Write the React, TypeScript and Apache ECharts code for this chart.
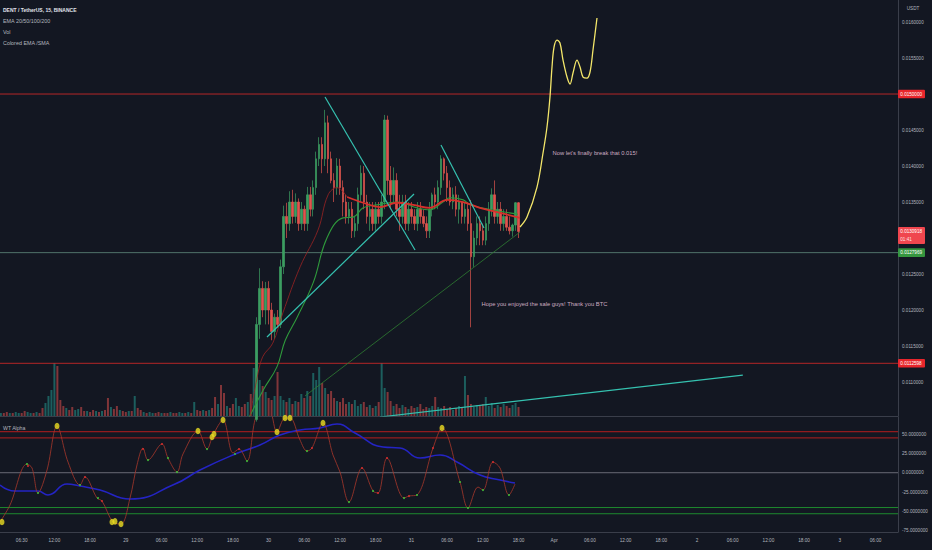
import React, { useEffect, useRef } from "react";
import * as echarts from "echarts";

// ---------- time axis: hours since 28 Mar 00:00 ----------
const X_MIN = 2.857;
const X_MAX = 153.78;
const timeTickHours = [6.5, 12, 18, 24, 30, 36, 42, 48, 54, 60, 66, 72, 78, 84, 90, 96, 102, 108, 114, 120, 126, 132, 138, 144, 150];
const dayLabels: Record<number, string> = { 24: "29", 48: "30", 72: "31", 96: "Apr", 120: "2", 144: "3" };

// ---------- price pane ----------
const PRICE_MIN = 0.010528;
const PRICE_MAX = 0.016306;
const priceTicks = [0.011, 0.0115, 0.012, 0.0125, 0.0135, 0.014, 0.0145, 0.0155, 0.016];
const resistanceLevel = 0.015;
const supportLevel = 0.0127969;
const lowLevel = 0.0112598;
const lastPrice = 0.0130918;
const countdown = "01:41";

// 30-minute candles from hour 46: [open, close, low, high]
const candleStartHour = 46;
const candleStepHours = 0.5;
const candles: number[][] = [
  [0.01048, 0.0118, 0.01045, 0.0119],
  [0.0118, 0.0123, 0.0116, 0.01258],
  [0.0123, 0.012, 0.0119, 0.0124],
  [0.012, 0.0123, 0.0118, 0.01239],
  [0.0123, 0.012, 0.0118, 0.0124],
  [0.012, 0.0117, 0.01158, 0.0121],
  [0.0117, 0.0119, 0.0116, 0.01195],
  [0.0119, 0.0118, 0.01175, 0.012],
  [0.0118, 0.0126, 0.01175, 0.0127],
  [0.0126, 0.0133, 0.0125, 0.01345],
  [0.0133, 0.0132, 0.013, 0.01349],
  [0.0132, 0.0135, 0.0131, 0.01365],
  [0.0135, 0.0133, 0.0132, 0.01367],
  [0.0133, 0.0135, 0.01321, 0.01362],
  [0.0135, 0.0132, 0.0131, 0.01355],
  [0.0132, 0.0134, 0.01311, 0.0135],
  [0.0134, 0.0132, 0.0131, 0.01345],
  [0.0132, 0.0136, 0.0131, 0.01371],
  [0.0136, 0.0134, 0.0133, 0.01371],
  [0.0134, 0.0137, 0.0133, 0.0138],
  [0.0137, 0.0141, 0.0136, 0.0142],
  [0.0141, 0.0143, 0.014, 0.0144],
  [0.0143, 0.0141, 0.0139, 0.0144],
  [0.0141, 0.0146, 0.014, 0.01478],
  [0.0146, 0.0141, 0.0139, 0.0147],
  [0.0141, 0.0138, 0.01376, 0.0142],
  [0.0138, 0.0137, 0.0135, 0.0139],
  [0.0137, 0.014, 0.0136, 0.01411],
  [0.014, 0.0137, 0.0136, 0.0141],
  [0.0137, 0.0135, 0.0133, 0.0138],
  [0.0135, 0.0133, 0.0132, 0.0136],
  [0.0133, 0.0134, 0.0132, 0.0135],
  [0.0134, 0.0131, 0.013, 0.0135],
  [0.0131, 0.0132, 0.01301, 0.0133],
  [0.0132, 0.0136, 0.0131, 0.0137],
  [0.0136, 0.0139, 0.0135, 0.01401],
  [0.0139, 0.0135, 0.0134, 0.014],
  [0.0135, 0.0133, 0.0132, 0.0136],
  [0.0133, 0.0134, 0.0131, 0.0135],
  [0.0134, 0.0132, 0.0131, 0.0135],
  [0.0132, 0.0134, 0.0131, 0.0135],
  [0.0134, 0.0133, 0.0132, 0.0135],
  [0.0133, 0.0135, 0.0132, 0.0136],
  [0.0135, 0.01464, 0.0134, 0.01471],
  [0.01464, 0.0138, 0.0136, 0.0147],
  [0.0138, 0.0136, 0.0134, 0.014],
  [0.0136, 0.0138, 0.0135, 0.01398],
  [0.0138, 0.0134, 0.0133, 0.0139],
  [0.0134, 0.0133, 0.0131, 0.0136],
  [0.0133, 0.0135, 0.0132, 0.0136],
  [0.0135, 0.0132, 0.01311, 0.0136],
  [0.0132, 0.0134, 0.0131, 0.0135],
  [0.0134, 0.0133, 0.0132, 0.0135],
  [0.0133, 0.0132, 0.01311, 0.0134],
  [0.0132, 0.0134, 0.0131, 0.0135],
  [0.0134, 0.0133, 0.0132, 0.0135],
  [0.0133, 0.0132, 0.01315, 0.0134],
  [0.0132, 0.0131, 0.013, 0.0133],
  [0.0131, 0.0134, 0.013, 0.0135],
  [0.0134, 0.0136, 0.0133, 0.01363],
  [0.0136, 0.0135, 0.0134, 0.0137],
  [0.0135, 0.0137, 0.0134, 0.0138],
  [0.0137, 0.0141, 0.0136, 0.01415],
  [0.0141, 0.0139, 0.0138, 0.01412],
  [0.0139, 0.0137, 0.0135, 0.014],
  [0.0137, 0.0135, 0.01345, 0.0138],
  [0.0135, 0.0136, 0.0134, 0.0137],
  [0.0136, 0.0134, 0.0133, 0.01372],
  [0.0134, 0.0135, 0.0132, 0.0136],
  [0.0135, 0.0133, 0.0132, 0.0135],
  [0.0133, 0.0134, 0.0132, 0.0135],
  [0.0134, 0.0132, 0.0131, 0.0135],
  [0.0132, 0.01274, 0.01176, 0.01353],
  [0.01274, 0.013, 0.0126, 0.0131],
  [0.013, 0.0132, 0.0129, 0.0133],
  [0.0132, 0.0131, 0.0129, 0.0133],
  [0.0131, 0.01297, 0.0129, 0.0132],
  [0.01297, 0.0132, 0.0129, 0.0133],
  [0.0132, 0.0134, 0.0131, 0.0135],
  [0.0134, 0.0136, 0.0133, 0.01369],
  [0.0136, 0.0133, 0.0132, 0.0138],
  [0.0133, 0.0134, 0.0132, 0.0135],
  [0.0134, 0.0132, 0.0131, 0.0135],
  [0.0132, 0.0133, 0.0131, 0.0134],
  [0.0133, 0.01315, 0.0131, 0.0134],
  [0.01315, 0.0131, 0.01305, 0.0133],
  [0.0131, 0.01318, 0.01302, 0.0132],
  [0.01318, 0.01349, 0.0131, 0.0135],
  [0.01349, 0.0130918, 0.013, 0.0135],
];

// 30-minute volume bars from hour 3
const volumeStartHour = 3;
const volumes = [
  3, 3, 4, 3, 3, 4, 3, 3, 5, 4, 3, 3, 4, 3,
  8, 13, 20, 26, 53, 50,
  16, 10, 8, 6, 9, 6, 7, 9, 5,
  5, 4, 6, 5, 4, 5, 6,
  18, 9, 7, 10, 6, 5, 4, 5, 5,
  20, 8, 6, 4,
  3, 4, 3, 3, 4, 3, 3, 3, 4, 3, 3, 4, 3, 3, 4, 3,
  14, 6, 5, 6, 5, 6, 8,
  19, 12, 31, 23, 10, 8, 12, 18, 10, 9, 12, 14, 22, 48,
  76, 36, 30, 24, 18, 16, 20, 44, 20, 16, 14, 18, 12, 15,
  14, 22, 18, 25, 20, 43, 36, 49, 33, 28, 22, 25, 18, 15,
  14, 18, 12, 14, 12, 16, 10, 12, 14, 9, 11, 8, 10, 14,
  53, 28, 24, 15, 10, 12, 8, 11, 9, 7, 10, 8, 9, 12,
  7, 9, 8, 10, 19, 9, 8, 10, 7, 9, 6, 8, 10, 9,
  40, 21, 12, 9, 11, 10, 12, 19, 10, 13, 8, 11, 9, 12, 10, 8, 11, 13, 9,
];
const volumeDirEarly =
  "udduduudduudud" + "duuuud" + "ddudduudd" + "uddudud" + "dudduddud" + "uddu" +
  "duudduddudduudud" + "uddudud" + "duddudduuddudu";

// moving averages [hour, price]
const emaRedThin = [
  [44.9, 0.01053], [46.0, 0.01103], [47.0, 0.01135], [48.7, 0.01154], [50.4, 0.01196],
  [53.3, 0.0126], [56.3, 0.01311], [58.0, 0.0136], [59.5, 0.0137], [61.2, 0.01357],
];
const emaRedThick = [
  [61.2, 0.01357], [63.9, 0.01349], [66.7, 0.01343], [69.6, 0.01349], [72.3, 0.01346],
  [75.1, 0.01342], [78.0, 0.01353], [80.7, 0.0135], [83.5, 0.01342], [86.4, 0.01336], [90.25, 0.01328],
];
const emaGreen = [
  [44.5, 0.01047], [47.1, 0.01089], [49.4, 0.01121], [50.8, 0.01158], [52.8, 0.0119],
  [55.5, 0.01238], [57.8, 0.013], [60.5, 0.01328], [62.2, 0.01329], [63.9, 0.01342],
  [66.2, 0.01346], [69.6, 0.0135], [72.9, 0.01342], [75.1, 0.01339], [77.3, 0.0135],
  [78.5, 0.01356], [80.7, 0.01353], [81.9, 0.01346], [85.0, 0.0134], [89.9, 0.01333],
];

// drawings
const projection = [
  [90.25, 0.013153], [91.43, 0.013292], [93.11, 0.013708], [94.12, 0.014181], [94.79, 0.014542],
  [95.29, 0.014958], [95.63, 0.015375], [95.97, 0.015653], [96.47, 0.01575], [96.97, 0.015708],
  [97.48, 0.015472], [98.15, 0.015236], [98.66, 0.015139], [99.16, 0.015292], [99.83, 0.015472],
  [100.34, 0.015375], [100.84, 0.015236], [101.51, 0.015222], [102.02, 0.015306], [102.52, 0.015611],
  [103.19, 0.016056],
];
const trendDownA = [[57.48, 0.014958], [72.61, 0.012833]];
const trendUpA = [[47.73, 0.011625], [72.44, 0.013611]];
const trendDownB = [[76.97, 0.014292], [84.2, 0.013139]];
const trendSupportThin = [[54.12, 0.010806], [90.25, 0.013083]];
const trendVolume = [[66.7, 0.010514], [127.7, 0.011097]];
const noteBreak = { hour: 95.63, price: 0.014181, text: "Now let's finally break that 0.015!" };
const noteSale = { hour: 83.7, price: 0.012083, text: "Hope you enjoyed the sale guys! Thank you BTC" };

// ---------- WT Alpha pane ----------
const WT_MIN = -76.6;
const WT_MAX = 72;
const wtTicks = [-75, -50, -25, 0, 25, 50];
const wtOverbought = [53, 45];
const wtOversold = [-45, -53];
const wtFast = [
  [2.86, -63.7], [4.54, -41.7], [7.39, 11.2], [8.24, 6.1], [9.24, -26.2], [10.76, 3.5], [12.44, 60.3],
  [14.29, 13.8], [16.3, -15.9], [17.14, -5.6], [19.16, -32.7], [20.0, -36.6], [21.85, -63.7], [23.19, -66.3],
  [24.71, -32.7], [25.88, 10.0], [26.89, 31.9], [27.73, 16.4], [30.08, 37.1], [31.09, 19.0], [32.61, 0.9],
  [33.61, 24.2], [36.13, 53.9], [37.65, 30.6], [38.66, 48.7], [40.34, 68.1], [42.02, 25.5], [43.03, 30.6],
  [44.37, 15.1], [45.71, 68.1], [46.89, 87.5], [48.24, 81.0], [49.41, 52.6], [50.76, 70.7], [51.6, 70.7],
  [53.28, 42.2], [54.45, 28.0], [55.29, 31.9], [57.14, 64.2], [58.82, 22.9], [60.0, 0.9], [61.51, -37.9],
  [63.7, 6.1], [65.55, -23.6], [66.39, -26.2], [67.9, 19.0], [70.76, -32.7], [71.6, -30.1], [72.94, -28.8],
  [75.63, 31.9], [77.14, 57.8], [80.17, -12.0], [81.51, -45.6], [83.19, -18.5], [84.03, -22.4], [85.71, 13.8],
  [86.89, 6.1], [88.4, -28.8], [89.41, -14.6],
];
const wtSlow = [
  [2.86, -15.9], [5.38, -23.6], [9.24, -23.6], [10.92, -28.8], [14.12, -14.6], [16.3, -17.2], [19.66, -22.4],
  [24.71, -34.0], [32.27, -14.6], [36.47, 3.5], [42.02, 22.9], [46.55, 35.8], [49.92, 48.7], [53.28, 55.2],
  [56.64, 57.8], [59.5, 62.9], [62.52, 51.3], [67.23, 33.2], [70.08, 31.9], [73.45, 19.0], [76.81, 22.9],
  [79.66, 13.8], [83.53, -3.0], [86.89, -9.4], [89.41, -13.3],
];
const wtBigDots = [
  [3.19, -63.7], [12.44, 60.3], [21.68, -63.7], [22.18, -62.9], [23.19, -66.3], [36.13, 53.9], [38.49, 46.1],
  [38.82, 50.0], [40.34, 68.1], [49.41, 52.6], [50.76, 70.7], [51.6, 70.7], [57.14, 64.2], [77.14, 57.8],
];
// [hour, value, 1 = green cross / 0 = red cross]
const wtCrossDots = [
  [7.39, 11.2, 1], [7.56, 8.7, 0], [9.24, -26.2, 1], [16.3, -15.9, 1], [17.14, -5.6, 0], [19.33, -32.7, 1],
  [20.0, -36.6, 0], [26.89, 30.6, 0], [27.73, 16.4, 1], [30.08, 37.1, 0], [31.09, 19.0, 1], [32.61, 0.9, 1],
  [37.65, 30.6, 1], [42.35, 24.2, 1], [43.03, 30.6, 0], [44.37, 15.1, 1], [54.45, 28.0, 1], [55.29, 31.9, 0],
  [61.51, -37.9, 1], [63.7, 6.1, 0], [65.55, -23.6, 1], [66.39, -26.2, 0], [67.9, 19.0, 0], [70.76, -32.7, 1],
  [71.6, -30.1, 0], [72.94, -28.8, 1], [75.63, 31.9, 0], [80.17, -12.0, 1], [81.51, -45.6, 1], [84.03, -22.4, 1],
  [85.71, 13.8, 0], [88.4, -28.8, 1],
];

const legendLines = ["DENT / TetherUS, 15, BINANCE", "EMA 20/50/100/200", "Vol", "Colored EMA /SMA"];

// ---------- styles ----------
const FONT = "'Liberation Sans', Arial, sans-serif";
const BG = "#131722";
const AXIS_TEXT = "#b2b5be";
const AXIS_LINE = "#3a3e4a";
const UP = "#3c9d61";
const DOWN = "#e0544d";
const UP_VOL = "rgba(38,166,154,0.5)";
const DOWN_VOL = "rgba(239,83,80,0.5)";
const TEAL = "#35c2b0";

const fmtTime = (v: number) => {
  const h = Math.round(v * 2) / 2;
  if (dayLabels[h] !== undefined) return dayLabels[h];
  const hod = ((h % 24) + 24) % 24;
  const hh = Math.floor(hod);
  const mm = Math.round((hod - hh) * 60);
  return String(hh).padStart(2, "0") + ":" + String(mm).padStart(2, "0");
};

export default function App() {
  const ref = useRef<HTMLDivElement>(null);

  useEffect(() => {
    const el = ref.current;
    if (!el) return;
    const chart = echarts.init(el, null, { renderer: "svg" });

    const candleData = candles.map((c, i) => [candleStartHour + i * candleStepHours, c[0], c[1], c[2], c[3]]);
    const offset = Math.round((candleStartHour - volumeStartHour) / 0.5);
    const volData = volumes.map((v, i) => {
      const ci = i - offset;
      const up = ci >= 0 && ci < candles.length ? candles[ci][1] >= candles[ci][0] : volumeDirEarly[i] === "u";
      return { value: [volumeStartHour + i * 0.5, v], itemStyle: { color: up ? UP_VOL : DOWN_VOL } };
    });

    const xBase = { type: "value", min: X_MIN, max: X_MAX, splitLine: { show: false }, axisTick: { show: false } };
    const lineS = (data: number[][], color: string, width: number, xi: number, yi: number, smooth: number | boolean = false, z = 3) => ({
      type: "line", data, xAxisIndex: xi, yAxisIndex: yi, showSymbol: false, symbol: "none", smooth,
      lineStyle: { color, width }, silent: true, z,
    });
    // horizontal level across the full time range
    const levelS = (value: number, color: string, width: number, xi: number, yi: number) =>
      lineS([[X_MIN, value], [X_MAX, value]], color, width, xi, yi, false, 2);
    const noteSeries = (n: { hour: number; price: number; text: string }) => ({
      type: "scatter", xAxisIndex: 0, yAxisIndex: 0, symbolSize: 1, itemStyle: { color: "rgba(0,0,0,0)" }, silent: true, z: 10,
      data: [{ value: [n.hour, n.price], name: n.text }],
      label: { show: true, position: "right", distance: 0, formatter: "{b}", color: "#f6d6e6", fontSize: 5.8, fontFamily: FONT },
    });

    const option: any = {
      animation: false,
      backgroundColor: BG,
      textStyle: { fontFamily: FONT },
      grid: [
        { left: 0, top: 0, width: 898, height: 416 },
        { left: 0, top: 296, width: 898, height: 120 },
        { left: 0, top: 417, width: 898, height: 115 },
      ],
      xAxis: [
        { ...xBase, gridIndex: 0, axisLabel: { show: false }, axisLine: { show: true, onZero: false, lineStyle: { color: AXIS_LINE, width: 1 } } },
        { ...xBase, gridIndex: 1, show: false },
        {
          ...xBase, gridIndex: 2,
          axisLine: { show: true, onZero: false, lineStyle: { color: AXIS_LINE, width: 1 } },
          axisLabel: {
            show: true, customValues: timeTickHours, formatter: fmtTime, color: AXIS_TEXT, fontSize: 4.7, margin: 6,
            fontFamily: FONT,
          },
        },
      ],
      yAxis: [
        {
          type: "value", gridIndex: 0, position: "right", min: PRICE_MIN, max: PRICE_MAX,
          splitLine: { show: false }, axisTick: { show: false },
          axisLine: { show: true, onZero: false, lineStyle: { color: AXIS_LINE } },
          axisLabel: { customValues: priceTicks, formatter: (v: number) => v.toFixed(7), color: AXIS_TEXT, fontSize: 4.6, margin: 4, fontFamily: FONT },
        },
        { type: "value", gridIndex: 1, min: 0, max: 120, show: false },
        {
          type: "value", gridIndex: 2, position: "right", min: WT_MIN, max: WT_MAX,
          splitLine: { show: false }, axisTick: { show: false },
          axisLine: { show: true, onZero: false, lineStyle: { color: AXIS_LINE } },
          axisLabel: { customValues: wtTicks, formatter: (v: number) => v.toFixed(7), color: AXIS_TEXT, fontSize: 4.6, margin: 4, fontFamily: FONT },
        },
      ],
      series: [
        { type: "bar", xAxisIndex: 1, yAxisIndex: 1, data: volData, barWidth: 2, silent: true, z: 1 },
        levelS(resistanceLevel, "#c62828", 0.9, 0, 0),
        levelS(supportLevel, "#5f8a7c", 0.8, 0, 0),
        levelS(lowLevel, "#c62828", 0.9, 0, 0),
        lineS(trendVolume, TEAL, 1.2, 0, 0),
        {
          type: "candlestick", xAxisIndex: 0, yAxisIndex: 0, data: candleData, barWidth: 2,
          encode: { x: 0, y: [1, 2, 3, 4] }, silent: true, z: 4,
          itemStyle: { color: UP, color0: DOWN, borderColor: UP, borderColor0: DOWN, borderWidth: 0.7 },
        },
        lineS(emaGreen, "#2f9a3c", 1.1, 0, 0, 0.4, 5),
        lineS(emaRedThin, "#9c2323", 0.8, 0, 0, 0.4, 5),
        lineS(emaRedThick, "#d6302b", 1.8, 0, 0, 0.4, 6),
        lineS(trendSupportThin, "#2e7d32", 0.8, 0, 0, false, 6),
        lineS(trendDownA, TEAL, 1.2, 0, 0, false, 7),
        lineS(trendUpA, TEAL, 1.2, 0, 0, false, 7),
        lineS(trendDownB, TEAL, 1.2, 0, 0, false, 7),
        lineS(projection, "#f4e76a", 1.3, 0, 0, 0.35, 8),
        noteSeries(noteBreak),
        noteSeries(noteSale),
        // WT Alpha
        ...wtOverbought.map((v) => levelS(v, "#b51e1e", 1, 2, 2)),
        levelS(0, "#7d808a", 0.8, 2, 2),
        ...wtOversold.map((v) => levelS(v, "#1e8a2e", 1, 2, 2)),
        lineS(wtSlow, "#2424c4", 1.6, 2, 2, 0.5, 3),
        lineS(wtFast, "#a9382c", 0.8, 2, 2, 0.35, 4),
        {
          type: "scatter", xAxisIndex: 2, yAxisIndex: 2, silent: true, z: 5, symbolSize: 2.2,
          data: wtCrossDots.map((d) => ({ value: [d[0], d[1]], itemStyle: { color: d[2] ? "#3ccf3c" : "#e03030" } })),
        },
        {
          type: "scatter", xAxisIndex: 2, yAxisIndex: 2, silent: true, z: 6, symbolSize: [5, 6.5],
          itemStyle: { color: "#e9dc22" }, data: wtBigDots,
        },
      ],
    };
    chart.setOption(option);

    const py = (v: number) => chart.convertToPixel({ yAxisIndex: 0 }, v) as number;
    const txt = (text: string, x: number, y: number, size: number, fill: string, weight = "normal") => ({
      type: "text", x, y, z: 100,
      style: { text, fill, fontSize: size, fontWeight: weight, fontFamily: FONT, verticalAlign: "middle", textAlign: "left" },
    });
    const box = (value: number, text: string, bg: string, second?: string) => {
      const y = py(value);
      const children: any[] = [
        { type: "rect", z: 99, shape: { x: 898, y: y - 4.3, width: 27, height: second ? 17 : 8.6, r: 1 }, style: { fill: bg } },
        txt(text, 900.3, y, 4.6, "#ffffff"),
      ];
      if (second) children.push(txt(second, 900.3, y + 8, 4.6, "#ffe2e4"));
      return { type: "group", children };
    };
    chart.setOption({
      graphic: [
        txt(legendLines[0], 3, 10, 5, "#e0e3eb", "bold"),
        txt(legendLines[1], 3, 21, 5.4, AXIS_TEXT),
        txt(legendLines[2], 3, 32, 5.4, AXIS_TEXT),
        txt(legendLines[3], 3, 43, 5.4, AXIS_TEXT),
        txt("WT Alpha", 3, 428, 5.2, AXIS_TEXT),
        { type: "text", x: 913, y: 8, z: 100, style: { text: "USDT", fill: AXIS_TEXT, fontSize: 4.6, fontFamily: FONT, textAlign: "center", verticalAlign: "middle" } },
        box(resistanceLevel, resistanceLevel.toFixed(7), "#e8262c"),
        box(lastPrice, lastPrice.toFixed(7), "#f0464e", countdown),
        box(supportLevel, supportLevel.toFixed(7), "#35963f"),
        box(lowLevel, lowLevel.toFixed(7), "#e8262c"),
      ],
    });

    return () => chart.dispose();
  }, []);

  return <div ref={ref} style={{ position: "fixed", left: 0, top: 0, width: 932, height: 550, background: BG }} />;
}
